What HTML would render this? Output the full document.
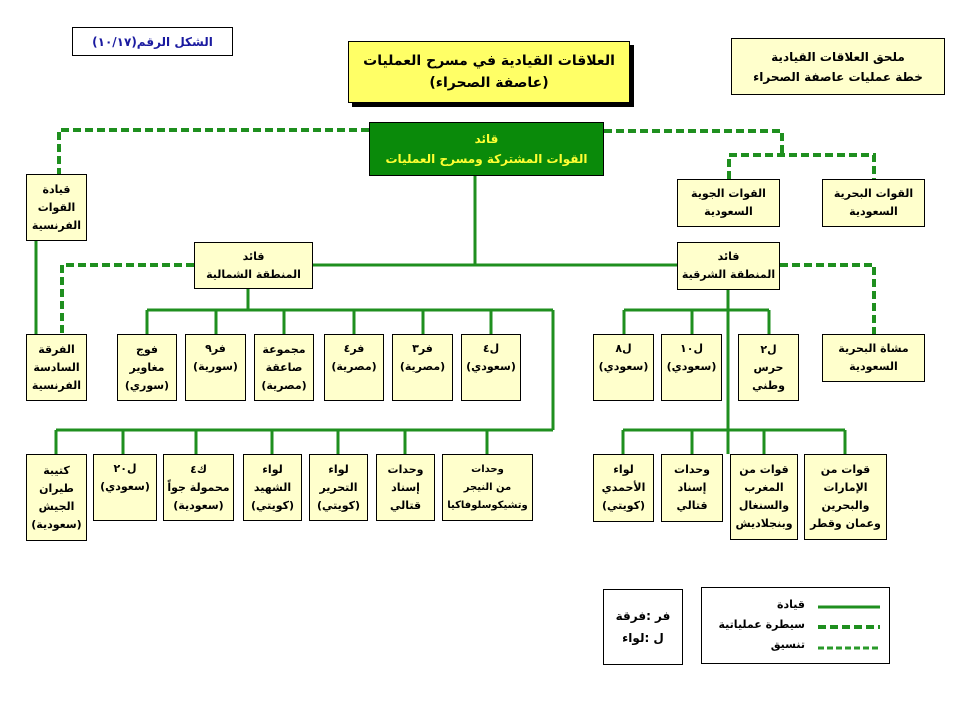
<!DOCTYPE html>
<html><head><meta charset="utf-8">
<style>
body{margin:0;width:959px;height:719px;background:#fff;position:relative;overflow:hidden;font-family:"DejaVu Sans","Liberation Sans",sans-serif;}
.b{position:absolute;box-sizing:border-box;border:1px solid #000;background:#ffffcc;display:flex;flex-direction:column;align-items:center;justify-content:center;text-align:center;font-size:11px;font-weight:bold;line-height:18px;direction:rtl;color:#000;white-space:nowrap;}
svg{position:absolute;left:0;top:0;}
</style></head><body>
<svg width="959" height="719">
<g fill="none" stroke="#1f8f1f" stroke-width="3">
<path d="M475 176V266M313 265H677"/>
<path d="M248 289V310M147 310H553M147 310V334M216 310V334M284 310V334M354 310V334M423 310V334M491 310V334"/>
<path d="M553 310V430M56 430H553M56 430V454M123 430V454M196 430V454M272 430V454M338 430V454M405 430V454M487 430V454"/>
<path d="M728 290V454M623 430H845M623 430V454M692 430V454M764 430V454M845 430V454"/>
<path d="M624 310H769M624 310V334M692 310V334M769 310V334"/>
<path d="M36 241V334"/>
</g>
<g fill="none" stroke="#1f8f1f" stroke-width="4" stroke-dasharray="8 4">
<path d="M369 130H59V174"/>
<path d="M604 131H782V155"/>
<path d="M729 179V155H874V179"/>
<path d="M780 265H874V334"/>
<path d="M194 265H62V334"/>
</g>
</svg>

<div class="b" style="left:72px;top:27px;width:161px;height:29px;background:#fff;color:#1a1aa0;font-size:12px;">الشكل الرقم(١٠/١٧)</div>
<div style="position:absolute;left:352px;top:45px;width:282px;height:62px;background:#000;"></div>
<div class="b" style="left:348px;top:41px;width:282px;height:62px;background:#ffff66;font-size:14px;line-height:22px;">العلاقات القيادية في مسرح العمليات<br>(عاصفة الصحراء)</div>
<div class="b" style="left:731px;top:38px;width:214px;height:57px;font-size:12px;line-height:20px;">ملحق العلاقات القيادية<br>خطة عمليات عاصفة الصحراء</div>
<div class="b" style="left:369px;top:122px;width:235px;height:54px;background:#0a8a0a;color:#ffff33;font-size:12px;line-height:20px;">قائد<br>القوات المشتركة ومسرح العمليات</div>

<div class="b" style="left:26px;top:174px;width:61px;height:67px;">قيادة<br>القوات<br>الفرنسية</div>
<div class="b" style="left:677px;top:179px;width:103px;height:48px;">القوات الجوية<br>السعودية</div>
<div class="b" style="left:822px;top:179px;width:103px;height:48px;">القوات البحرية<br>السعودية</div>
<div class="b" style="left:194px;top:242px;width:119px;height:47px;">قائد<br>المنطقة الشمالية</div>
<div class="b" style="left:677px;top:242px;width:103px;height:48px;">قائد<br>المنطقة الشرقية</div>

<div class="b" style="left:26px;top:334px;width:61px;height:67px;">الفرقة<br>السادسة<br>الفرنسية</div>
<div class="b" style="left:117px;top:334px;width:60px;height:67px;">فوج<br>مغاوير<br>(سوري)</div>
<div class="b" style="left:185px;top:334px;width:61px;height:67px;justify-content:flex-start;padding-top:5px;">فر٩<br>(سورية)</div>
<div class="b" style="left:254px;top:334px;width:60px;height:67px;">مجموعة<br>صاعقة<br>(مصرية)</div>
<div class="b" style="left:324px;top:334px;width:60px;height:67px;justify-content:flex-start;padding-top:5px;">فر٤<br>(مصرية)</div>
<div class="b" style="left:392px;top:334px;width:61px;height:67px;justify-content:flex-start;padding-top:5px;">فر٣<br>(مصرية)</div>
<div class="b" style="left:461px;top:334px;width:60px;height:67px;justify-content:flex-start;padding-top:5px;">ل٤<br>(سعودي)</div>
<div class="b" style="left:593px;top:334px;width:61px;height:67px;justify-content:flex-start;padding-top:5px;">ل٨<br>(سعودي)</div>
<div class="b" style="left:661px;top:334px;width:61px;height:67px;justify-content:flex-start;padding-top:5px;">ل١٠<br>(سعودي)</div>
<div class="b" style="left:738px;top:334px;width:61px;height:67px;">ل٢<br>حرس<br>وطني</div>
<div class="b" style="left:822px;top:334px;width:103px;height:48px;">مشاة البحرية<br>السعودية</div>

<div class="b" style="left:26px;top:454px;width:61px;height:87px;">كتيبة<br>طيران<br>الجيش<br>(سعودية)</div>
<div class="b" style="left:93px;top:454px;width:64px;height:67px;justify-content:flex-start;padding-top:5px;">ل٢٠<br>(سعودي)</div>
<div class="b" style="left:163px;top:454px;width:71px;height:67px;">ك٤<br>محمولة جواً<br>(سعودية)</div>
<div class="b" style="left:243px;top:454px;width:59px;height:67px;">لواء<br>الشهيد<br>(كويتي)</div>
<div class="b" style="left:309px;top:454px;width:59px;height:67px;">لواء<br>التحرير<br>(كويتي)</div>
<div class="b" style="left:376px;top:454px;width:59px;height:67px;">وحدات<br>إسناد<br>قتالي</div>
<div class="b" style="left:442px;top:454px;width:91px;height:67px;font-size:10px;">وحدات<br>من النيجر<br>وتشيكوسلوفاكيا</div>
<div class="b" style="left:593px;top:454px;width:61px;height:68px;">لواء<br>الأحمدي<br>(كويتي)</div>
<div class="b" style="left:661px;top:454px;width:62px;height:68px;">وحدات<br>إسناد<br>قتالي</div>
<div class="b" style="left:730px;top:454px;width:68px;height:86px;">قوات من<br>المغرب<br>والسنغال<br>وبنجلاديش</div>
<div class="b" style="left:804px;top:454px;width:83px;height:86px;">قوات من<br>الإمارات<br>والبحرين<br>وعمان وقطر</div>

<div class="b" style="left:603px;top:589px;width:80px;height:76px;background:#fff;font-size:12px;line-height:22px;">فر :فرقة<br>ل :لواء</div>
<div style="position:absolute;left:701px;top:587px;width:189px;height:77px;border:1px solid #000;box-sizing:border-box;"></div>
<div style="position:absolute;left:705px;top:595px;width:100px;text-align:right;direction:rtl;font-size:11px;font-weight:bold;line-height:20px;white-space:nowrap;">قيادة<br>سيطرة عملياتية<br>تنسيق</div>
<svg width="959" height="719" style="pointer-events:none">
<path d="M818 607H880" stroke="#1f8f1f" stroke-width="3"/>
<path d="M818 627H880" stroke="#1f8f1f" stroke-width="4" stroke-dasharray="8 4"/>
<path d="M818 648H880" stroke="#2a9a2a" stroke-width="3" stroke-dasharray="6 3"/>
</svg>
</body></html>
